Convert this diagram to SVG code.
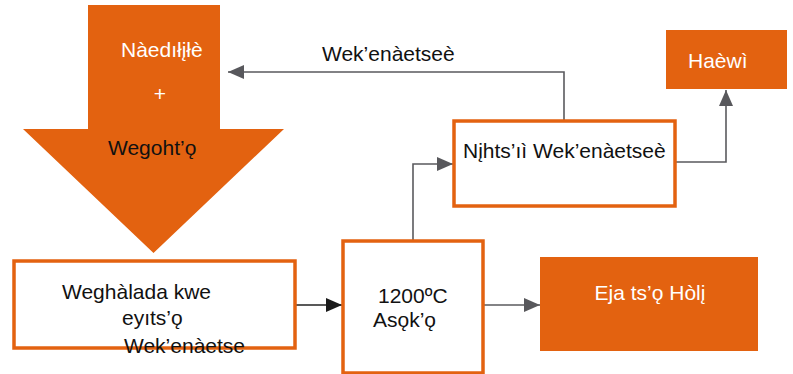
<svg xmlns="http://www.w3.org/2000/svg" width="793" height="374" viewBox="0 0 793 374">
<style>
text{font-family:"Liberation Sans",Arial,sans-serif;font-size:21px;fill:#111}
.w{fill:#fff}
.box{fill:#fff;stroke:#E36210;stroke-width:3.5}
.fill{fill:#E36210}
.ln{fill:none;stroke:#5a5a5e;stroke-width:1.6}
.lnb{fill:none;stroke:#222;stroke-width:1.6}
</style>
<defs>
<marker id="agb" viewBox="0 0 16 16" refX="16" refY="8" markerWidth="16" markerHeight="16" markerUnits="userSpaceOnUse" orient="auto"><path d="M0,1L16,8L0,15z" fill="#58585c"/></marker>
<marker id="ab" viewBox="0 0 16 16" refX="16" refY="8" markerWidth="16" markerHeight="16" markerUnits="userSpaceOnUse" orient="auto"><path d="M0,1L16,8L0,15z" fill="#1a1a1a"/></marker>
</defs>
<g id="connectors">
<path class="lnb" d="M295,305H342" marker-end="url(#ab)"/>
<path class="ln" d="M483,305H540" marker-end="url(#agb)"/>
<path class="ln" d="M413,241V164H453" marker-end="url(#agb)"/>
<path class="ln" d="M564,120V72H228" marker-end="url(#agb)"/>
<path class="ln" d="M675,162H726V90" marker-end="url(#agb)"/>
<text x="322" y="61">Wek’enàetseè</text>
</g>
<g id="input-arrow">
<path class="fill" d="M88,5H220V129H284L153.5,253L23,129H88Z"/>
<text class="w" x="121" y="57">Nàedıłįłè</text>
<text class="w" x="160" y="101" text-anchor="middle">+</text>
<text x="108" y="155">Wegoht’ǫ</text>
</g>
<g id="box-grinding">
<rect class="box" x="14" y="261" width="281" height="87"/>
<text x="62" y="299">Weghàlada kwe</text>
<text x="122" y="325">eyıts’ǫ</text>
<text x="124" y="353">Wek’enàetse</text>
</g>
<g id="box-heat">
<rect class="box" x="343" y="241" width="140" height="132"/>
<text x="378" y="303">1200ºC</text>
<text x="373" y="327">Asǫk’ǫ</text>
</g>
<g id="box-product">
<rect class="fill" x="540" y="257" width="218" height="94"/>
<text class="w" x="650" y="300" text-anchor="middle">Eja ts’ǫ Hòlį</text>
</g>
<g id="box-gas">
<rect class="box" x="454" y="121" width="221" height="85"/>
<text x="463" y="158">Nįhts’ıì Wek’enàetseè</text>
</g>
<g id="box-air">
<rect class="fill" x="666" y="30" width="121" height="59"/>
<text class="w" x="688" y="68">Haèwì</text>
</g>
</svg>
